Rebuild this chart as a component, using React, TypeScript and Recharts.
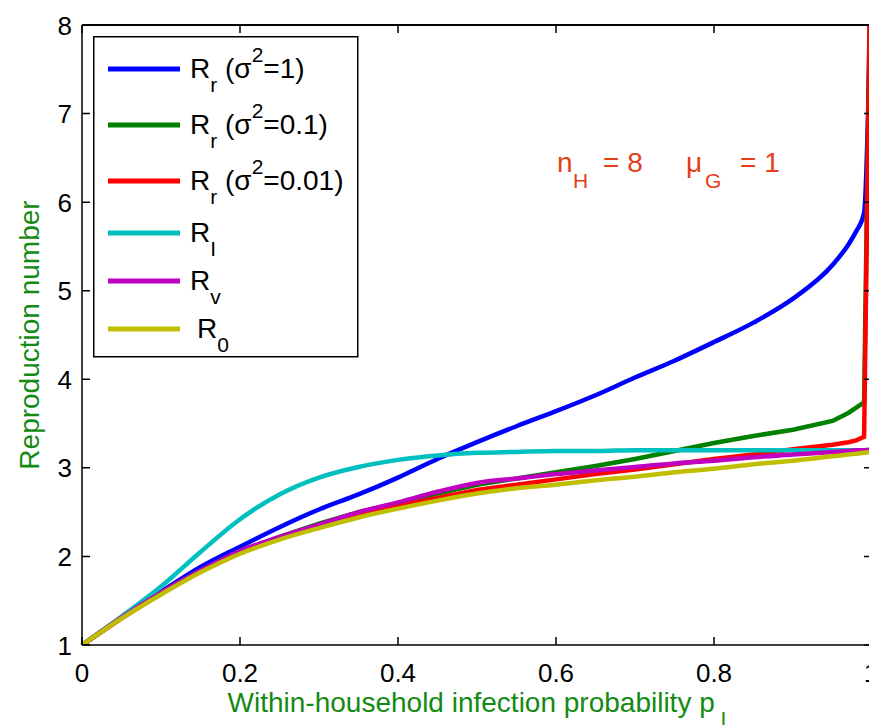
import React from 'react';
import { LineChart, Line, XAxis, YAxis, Legend } from 'recharts';

const FONT = '"Liberation Sans", Arial, Helvetica, sans-serif';

// within-household infection probability p_I
const pI = [0, 0.05, 0.1, 0.15, 0.2, 0.25, 0.3, 0.35, 0.4, 0.45, 0.5, 0.55, 0.6, 0.65, 0.7, 0.75, 0.8, 0.85, 0.9, 0.95, 0.97, 0.98, 0.99, 1];

const rrSigma1 = [1, 1.31, 1.6, 1.88, 2.11, 2.33, 2.53, 2.7, 2.89, 3.1, 3.29, 3.47, 3.64, 3.82, 4.02, 4.21, 4.42, 4.64, 4.91, 5.29, 5.52, 5.67, 5.88, 9.0];
const rrSigma01 = [1, 1.31, 1.59, 1.84, 2.06, 2.22, 2.37, 2.5, 2.6, 2.71, 2.81, 2.88, 2.95, 3.02, 3.1, 3.19, 3.28, 3.36, 3.43, 3.53, 3.62, 3.68, 3.74, 10];
const rrSigma001 = [1, 1.3, 1.58, 1.83, 2.04, 2.2, 2.34, 2.47, 2.57, 2.66, 2.75, 2.81, 2.87, 2.93, 2.98, 3.04, 3.1, 3.15, 3.21, 3.26, 3.29, 3.31, 3.35, 10];
const rI = [1, 1.32, 1.66, 2.05, 2.42, 2.7, 2.89, 3.01, 3.09, 3.14, 3.17, 3.18, 3.19, 3.19, 3.2, 3.2, 3.2, 3.2, 3.2, 3.2, 3.2, 3.2, 3.2, 3.2];
const rV = [1, 1.31, 1.59, 1.84, 2.06, 2.22, 2.36, 2.5, 2.61, 2.73, 2.83, 2.88, 2.93, 2.97, 3.01, 3.05, 3.08, 3.12, 3.15, 3.18, 3.19, 3.2, 3.2, 3.21];
const r0 = [1, 1.3, 1.57, 1.82, 2.03, 2.19, 2.32, 2.44, 2.54, 2.63, 2.71, 2.77, 2.81, 2.86, 2.9, 2.95, 2.99, 3.04, 3.08, 3.13, 3.15, 3.16, 3.17, 3.18];

const xTicks = [0, 0.2, 0.4, 0.6, 0.8, 1];
const yTicks = [1, 2, 3, 4, 5, 6, 7, 8];

const data = pI.map((x, i) => ({
  x,
  rr1: rrSigma1[i],
  rr01: rrSigma01[i],
  rr001: rrSigma001[i],
  rI: rI[i],
  rV: rV[i],
  r0: r0[i],
}));

const series = [
  { key: 'rr1', color: '#0000ff', type: 'monotone' },
  { key: 'rr01', color: '#008000', type: 'linear' },
  { key: 'rr001', color: '#ff0000', type: 'linear' },
  { key: 'rI', color: '#00bfbf', type: 'monotone' },
  { key: 'rV', color: '#bf00bf', type: 'monotone' },
  { key: 'r0', color: '#bfbf00', type: 'monotone' },
];

const LABEL_GREEN = '#138a13';
const NOTE_RED = '#e43d17';
const TICK = 8;
// plot box
const LEFT = 82;
const TOP = 25;
const PLOT_W = 790;
const PLOT_H = 620;
const RIGHT = LEFT + PLOT_W;
const BOTTOM = TOP + PLOT_H;

const fmtX = (v: number) => (v === 0 || v === 1 ? String(v) : v.toFixed(1));

const BottomTick = ({ x, y, payload }: any) => (
  <text x={x} y={y + 35} textAnchor="middle" fontSize={26} fontFamily={FONT} fill="#000">
    {fmtX(payload.value)}
  </text>
);

const LeftTick = ({ x, y, payload }: any) => (
  <text x={x - 8} y={y + 9.5} textAnchor="end" fontSize={26} fontFamily={FONT} fill="#000">
    {payload.value}
  </text>
);

const XLabel = ({ viewBox }: any) => (
  <text
    x={viewBox.x + viewBox.width / 2}
    y={viewBox.y + 67}
    textAnchor="middle"
    fontSize={28}
    fontFamily={FONT}
    fill={LABEL_GREEN}
    style={{ whiteSpace: 'pre' }}
  >
    Within-household infection probability p<tspan dy={14} fontSize={21}> I</tspan>
  </text>
);

const YLabel = ({ viewBox }: any) => {
  const cy = viewBox.y + viewBox.height / 2;
  return (
    <text
      x={39}
      y={cy}
      transform={`rotate(-90 39 ${cy})`}
      textAnchor="middle"
      fontSize={28}
      fontFamily={FONT}
      fill={LABEL_GREEN}
    >
      Reproduction number
    </text>
  );
};

const legendRows: Record<string, { y: number; dx: number; sub: string; sig?: string }> = {
  rr1: { y: 33, dx: 0, sub: 'r', sig: '1' },
  rr01: { y: 89, dx: 0, sub: 'r', sig: '0.1' },
  rr001: { y: 145, dx: 0, sub: 'r', sig: '0.01' },
  rI: { y: 197, dx: 0, sub: 'I' },
  rV: { y: 245, dx: 0, sub: 'v' },
  r0: { y: 293, dx: 7, sub: '0' },
};

const LegendBox = ({ payload }: any) => (
  <svg width={266} height={322}>
    <rect x={0.75} y={0.75} width={264} height={320} fill="#fff" stroke="#000" strokeWidth={1.5} />
    {(payload || []).map((item: any) => {
      const row = legendRows[item.dataKey];
      if (!row) return null;
      return (
        <g key={item.dataKey}>
          <line x1={15} x2={87} y1={row.y} y2={row.y} stroke={item.color} strokeWidth={5} />
          <text
            x={97 + row.dx}
            y={row.y + 9}
            fontSize={28}
            fontFamily={FONT}
            fill="#000"
            style={{ whiteSpace: 'pre' }}
          >
            R<tspan dy={14} fontSize={21}>{row.sub}</tspan>
            {row.sig && (
              <>
                <tspan dy={-14} fontSize={28}> (σ</tspan>
                <tspan dy={-16} fontSize={21}>2</tspan>
                <tspan dy={16} fontSize={28}>={row.sig})</tspan>
              </>
            )}
          </text>
        </g>
      );
    })}
  </svg>
);

// inward ticks on all four sides
const frameX = (v: number) => LEFT + v * PLOT_W;
const frameY = (v: number) => BOTTOM - ((v - 1) / 7) * PLOT_H;
const frameTicks =
  xTicks.map((v) => `M${frameX(v)},${BOTTOM}v${-TICK}M${frameX(v)},${TOP}v${TICK}`).join('') +
  yTicks.map((v) => `M${LEFT},${frameY(v)}h${TICK}M${RIGHT},${frameY(v)}h${-TICK}`).join('');

export default function App() {
  return (
    <div
      style={{
        position: 'absolute',
        left: 0,
        top: 0,
        width: 869,
        height: 725,
        overflow: 'hidden',
        background: '#fff',
      }}
    >
      <LineChart width={875} height={725} data={data} margin={{ top: TOP, right: 3, bottom: 0, left: 0 }}>
        <XAxis
          type="number"
          dataKey="x"
          domain={[0, 1]}
          ticks={xTicks}
          height={80}
          tickSize={0}
          tickLine={false}
          axisLine={{ stroke: '#000', strokeWidth: 1.5 }}
          tick={<BottomTick />}
          label={{ content: <XLabel /> }}
        />
        <YAxis
          type="number"
          domain={[1, 8]}
          ticks={yTicks}
          allowDataOverflow
          width={LEFT}
          tickSize={0}
          tickLine={false}
          axisLine={{ stroke: '#000', strokeWidth: 1.5 }}
          tick={<LeftTick />}
          label={{ content: <YLabel /> }}
        />
        <Legend
          layout="vertical"
          align="center"
          verticalAlign="middle"
          content={<LegendBox />}
          wrapperStyle={{ left: 93, top: 36, width: 266, height: 322 }}
        />
        {series.map((s) => (
          <Line
            key={s.key}
            dataKey={s.key}
            type={s.type as any}
            stroke={s.color}
            strokeWidth={4.5}
            dot={false}
            activeDot={false}
            isAnimationActive={false}
          />
        ))}
      </LineChart>
      {/* top and right frame edges */}
      <div
        style={{
          position: 'absolute',
          left: LEFT,
          top: TOP - 1,
          width: PLOT_W,
          height: PLOT_H + 1,
          borderTop: '2px solid #000',
          borderRight: '2px solid #000',
          boxSizing: 'border-box',
          pointerEvents: 'none',
        }}
      />
      <svg
        width={869}
        height={725}
        style={{ position: 'absolute', left: 0, top: 0, pointerEvents: 'none' }}
      >
        <path d={frameTicks} stroke="#000" strokeWidth={1.5} fill="none" />
        <text x={557} y={172} fontSize={28} fontFamily={FONT} fill={NOTE_RED}>
          n<tspan x={573} dy={16} fontSize={21}>H</tspan>
          <tspan x={603} dy={-16} fontSize={28} style={{ whiteSpace: 'pre' }}>= 8</tspan>
          <tspan x={686} fontSize={28}>μ</tspan>
          <tspan x={705} dy={16} fontSize={21}>G</tspan>
          <tspan x={740} dy={-16} fontSize={28} style={{ whiteSpace: 'pre' }}>= 1</tspan>
        </text>
      </svg>
    </div>
  );
}
